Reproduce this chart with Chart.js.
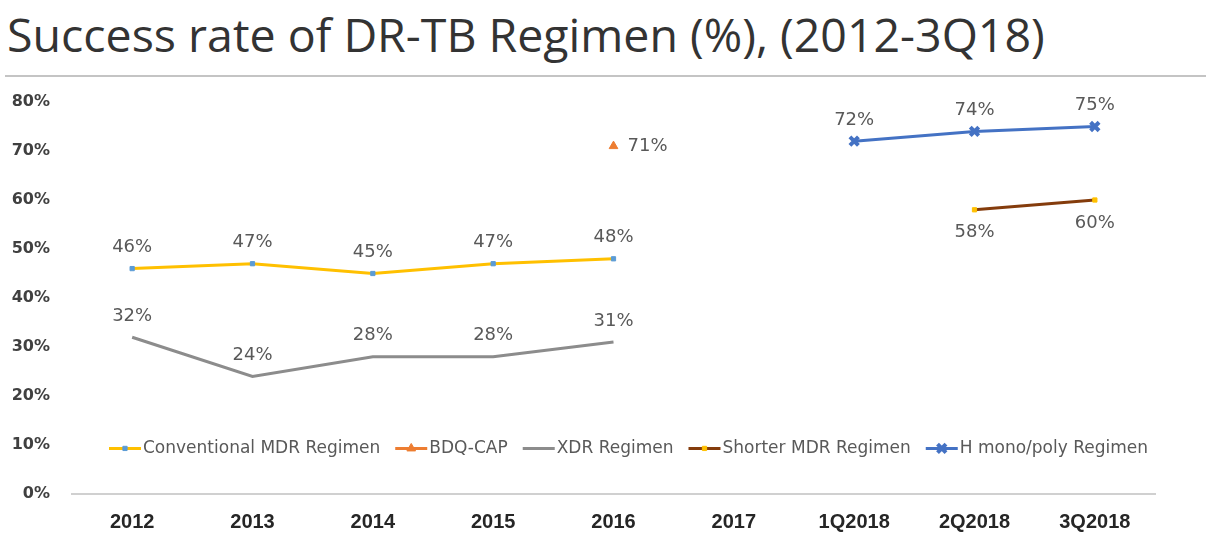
<!DOCTYPE html>
<html>
<head>
<meta charset="utf-8">
<script src="https://cdn.jsdelivr.net/npm/chart.js@4/dist/chart.umd.min.js"></script>
<style>
  body { margin: 0; background: #fff; }
  #wrap { position: relative; width: 1212px; height: 546px; overflow: hidden; }
  h1 {
    position: absolute; left: 7px; top: 2px; margin: 0;
    font: 400 46.5px "Open Sans", sans-serif; color: #333;
    white-space: nowrap;
  }
  #rule { position: absolute; left: 5px; right: 6px; top: 75px; height: 2px; background: #c4c4c4; }
  #box { position: absolute; left: 0; top: 0; width: 1212px; height: 546px; }
</style>
</head>
<body>
<div id="wrap">
  <h1>Success rate of DR-TB Regimen (%), (2012-3Q18)</h1>
  <div id="rule"></div>
  <div id="box"><canvas id="chart"></canvas></div>
</div>
<script>
const periods = ['2012', '2013', '2014', '2015', '2016', '2017', '1Q2018', '2Q2018', '3Q2018']
const conventionalMdr = [46, 47, 45, 47, 48, null, null, null, null]
const bdqCap = [null, null, null, null, 71, null, null, null, null]
const xdr = [32, 24, 28, 28, 31, null, null, null, null]
const shorterMdr = [null, null, null, null, null, null, null, 58, 60]
const hMonoPoly = [null, null, null, null, null, null, 72, 74, 75]
const yTicks = [0, 10, 20, 30, 40, 50, 60, 70, 80]

// value labels next to the points
const valueLabels = {
    id: 'valueLabels',
    afterDatasetsDraw(chart) {
        const ctx = chart.ctx
        ctx.save()
        ctx.font = '18px "DejaVu Sans", sans-serif'
        ctx.fillStyle = '#595959'
        ctx.textBaseline = 'middle'
        chart.data.datasets.forEach((ds, i) => {
            const meta = chart.getDatasetMeta(i)
            meta.data.forEach((pt, j) => {
                const v = ds.data[j]
                if (v === null) return
                const text = v + '%'
                if (ds.labelPos === 'right') {
                    ctx.textAlign = 'left'
                    ctx.fillText(text, pt.x + 14, pt.y)
                } else if (ds.labelPos === 'below') {
                    ctx.textAlign = 'center'
                    ctx.fillText(text, pt.x, pt.y + 23)
                } else {
                    ctx.textAlign = 'center'
                    ctx.fillText(text, pt.x, pt.y - 21)
                }
            })
        })
        ctx.restore()
    }
}

// legend drawn inside the plot, near the 10% line
const innerLegend = {
    id: 'innerLegend',
    afterDraw(chart) {
        const ctx = chart.ctx
        const y = chart.scales.y.getPixelForValue(9.3)
        const sample = 32
        const gap = 15
        ctx.save()
        ctx.font = '17px "DejaVu Sans", sans-serif'
        ctx.textBaseline = 'middle'
        const items = chart.data.datasets.map(ds => ({ ds, w: sample + 2 + ctx.measureText(ds.label).width }))
        const total = items.reduce((s, it) => s + it.w, 0) + gap * (items.length - 1)
        let x = (chart.chartArea.left + chart.chartArea.right) / 2 - total / 2 + 15
        items.forEach(({ ds, w }) => {
            ctx.strokeStyle = ds.borderColor
            ctx.lineWidth = 3
            ctx.beginPath()
            ctx.moveTo(x, y)
            ctx.lineTo(x + sample, y)
            ctx.stroke()
            if (ds.pointRadius > 0) {
                ctx.fillStyle = ds.pointBackgroundColor
                ctx.strokeStyle = ds.pointBorderColor
                ctx.lineWidth = ds.pointBorderWidth
                Chart.helpers.drawPoint(ctx, {
                    pointStyle: ds.pointStyle,
                    radius: ds.pointRadius,
                    borderWidth: ds.pointBorderWidth,
                    rotation: 0
                }, x + sample / 2, y)
            }
            ctx.fillStyle = '#595959'
            ctx.textAlign = 'left'
            ctx.fillText(ds.label, x + sample + 2, y)
            x += w + gap
        })
        ctx.restore()
    }
}

new Chart(document.getElementById('chart'), {
    type: 'line',
    data: {
        labels: periods,
        datasets: [
            {
                label: 'Conventional MDR Regimen',
                data: conventionalMdr,
                borderColor: '#FFC000',
                borderWidth: 3,
                pointStyle: 'rect',
                pointRadius: 3,
                pointBackgroundColor: '#5B9BD5',
                pointBorderColor: '#5B9BD5',
                pointBorderWidth: 1,
                labelPos: 'above'
            },
            {
                label: 'BDQ-CAP',
                data: bdqCap,
                borderColor: '#ED7D31',
                showLine: false,
                pointStyle: 'triangle',
                pointRadius: 5,
                pointBackgroundColor: '#ED7D31',
                pointBorderColor: '#ED7D31',
                pointBorderWidth: 1,
                labelPos: 'right'
            },
            {
                label: 'XDR Regimen',
                data: xdr,
                borderColor: '#8C8C8C',
                borderWidth: 3,
                pointRadius: 0,
                pointBackgroundColor: '#8C8C8C',
                pointBorderColor: '#8C8C8C',
                pointBorderWidth: 0,
                labelPos: 'above'
            },
            {
                label: 'Shorter MDR Regimen',
                data: shorterMdr,
                borderColor: '#843C0C',
                borderWidth: 3,
                pointStyle: 'rect',
                pointRadius: 3,
                pointBackgroundColor: '#FFC000',
                pointBorderColor: '#FFC000',
                pointBorderWidth: 1,
                labelPos: 'below'
            },
            {
                label: 'H mono/poly Regimen',
                data: hMonoPoly,
                borderColor: '#4472C4',
                borderWidth: 3,
                pointStyle: 'crossRot',
                pointRadius: 6,
                pointBackgroundColor: '#4472C4',
                pointBorderColor: '#4472C4',
                pointBorderWidth: 4,
                labelPos: 'above'
            }
        ]
    },
    options: {
        responsive: true,
        maintainAspectRatio: false,
        animation: false,
        events: [],
        layout: { padding: { top: 102, right: 57, bottom: 10, left: 0 } },
        plugins: { legend: { display: false }, tooltip: { enabled: false } },
        scales: {
            x: {
                offset: true,
                afterFit(scale) { scale.height = 42 },
                grid: { display: false, drawTicks: false },
                border: { display: true, color: '#d0d0d0', width: 2 },
                ticks: {
                    padding: 16,
                    color: '#262626',
                    font: { family: '"Liberation Sans", sans-serif', size: 20, weight: 'bold' }
                }
            },
            y: {
                min: 0,
                max: 80,
                afterFit(scale) { scale.width = 72 },
                afterBuildTicks(scale) { scale.ticks = yTicks.map(v => ({ value: v })) },
                grid: { display: false, drawTicks: false },
                border: { display: false },
                ticks: {
                    padding: 22,
                    color: '#404040',
                    callback: v => v + '%',
                    font: { family: '"DejaVu Sans", sans-serif', size: 16, weight: 'bold' }
                }
            }
        }
    },
    plugins: [valueLabels, innerLegend]
})
</script>
</body>
</html>
